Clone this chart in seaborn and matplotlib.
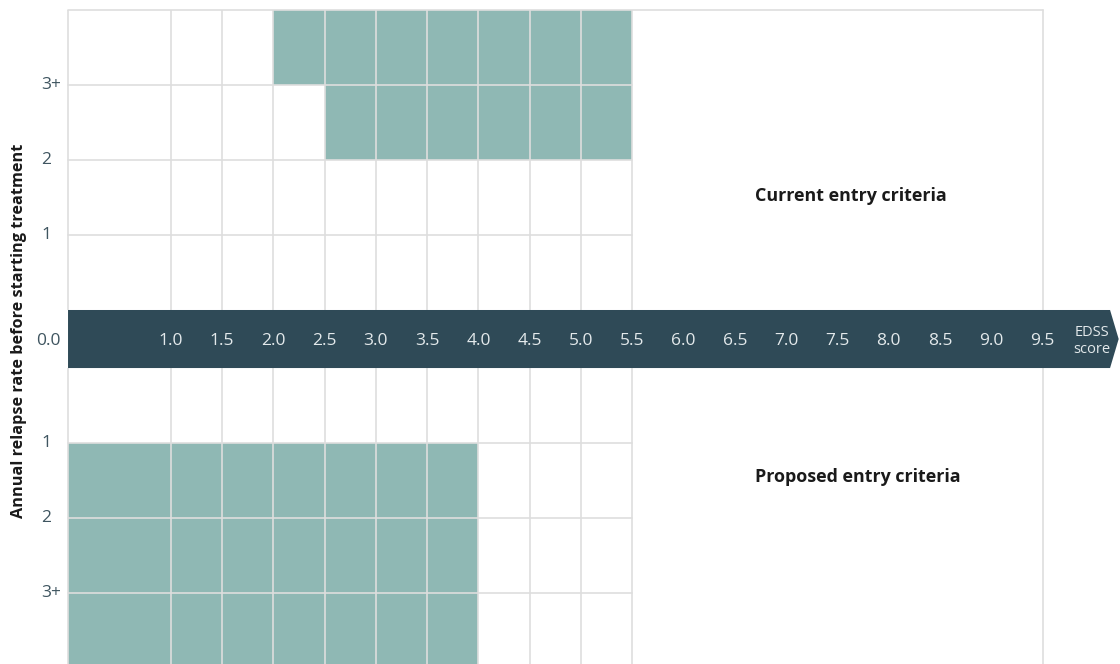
import matplotlib
matplotlib.use("Agg")
import matplotlib.pyplot as plt
import seaborn as sns
import numpy as np

# ---- data ----
edss_ticks = [1.0, 1.5, 2.0, 2.5, 3.0, 3.5, 4.0, 4.5, 5.0, 5.5, 6.0, 6.5, 7.0, 7.5, 8.0, 8.5, 9.0, 9.5]
grid_x = [0.0, 1.0, 1.5, 2.0, 2.5, 3.0, 3.5, 4.0, 4.5, 5.0, 5.5]
relapse_labels = ["1", "2", "3+"]
current_start = [None, 2.5, 2.0]   # EDSS start per relapse row (None = not eligible)
current_end = [None, 5.5, 5.5]
proposed_start = [0.0, 0.0, 0.0]
proposed_end = [4.0, 4.0, 4.0]
edss_max = 9.5

# ---- style ----
sns.set_theme(style="white")
plt.rcParams["font.family"] = ["Open Sans", "DejaVu Sans"]

FILL = "#8fb8b4"
GRID = "#dedede"
BAND = "#2f4a57"
LABEL = "#3f5560"
BANDTXT = "#e3e9eb"

fig = plt.figure(figsize=(11.2, 6.64), dpi=100)
ax = fig.add_axes([0, 0, 1, 1])
ax.set_xlim(-0.663, 10.253)
ax.set_ylim(-4.333, 4.52)
ax.axis("off")

half = 0.387  # half height of the axis band
n_rows = len(relapse_labels)
line_y = [half + i + 1 for i in range(n_rows)]   # 1, 2, 3+ lines (upper)
top = half + n_rows + 1
bottom = -top

# filled cells
for i, lab in enumerate(relapse_labels):
    if current_start[i] is not None:
        ax.barh(line_y[i] + 0.5, current_end[i] - current_start[i], left=current_start[i],
                height=1.0, color=FILL, linewidth=0, zorder=1)
    if proposed_start[i] is not None:
        ax.barh(-line_y[i] - 0.5, proposed_end[i] - proposed_start[i], left=proposed_start[i],
                height=1.0, color=FILL, linewidth=0, zorder=1)

# grid lines
lw = 1.2
for x in grid_x:
    ax.plot([x, x], [half, top], color=GRID, lw=lw, zorder=2, solid_capstyle="butt")
    ax.plot([x, x], [-half, bottom], color=GRID, lw=lw, zorder=2, solid_capstyle="butt")
for y in line_y:
    ax.plot([0, grid_x[-1]], [y, y], color=GRID, lw=lw, zorder=2)
    ax.plot([0, grid_x[-1]], [-y, -y], color=GRID, lw=lw, zorder=2)
ax.plot([0, edss_max], [top, top], color=GRID, lw=lw, zorder=2)
ax.plot([edss_max, edss_max], [bottom, top], color=GRID, lw=lw, zorder=2)

# axis band with arrow tip
bx_end = 10.156
tip = 10.24
ax.fill([0, bx_end, tip, bx_end, 0], [half, half, 0, -half, -half], color=BAND, lw=0, zorder=3)

for t in edss_ticks:
    ax.text(t, -0.02, f"{t:.1f}", ha="center", va="center", color=BANDTXT, fontsize=12.5, zorder=4)
ax.text(9.98, -0.03, "EDSS\nscore", ha="center", va="center", color=BANDTXT,
        fontsize=10.5, linespacing=1.15, zorder=4)
ax.text(-0.31, -0.02, "0.0", ha="left", va="center", color=LABEL, fontsize=12.5)

for i, lab in enumerate(relapse_labels):
    ax.text(-0.263, line_y[i], lab, ha="left", va="center", color=LABEL, fontsize=12.5)
    ax.text(-0.263, -line_y[i], lab, ha="left", va="center", color=LABEL, fontsize=12.5)

ax.text(-0.473, 0.107, "Annual relapse rate before starting treatment", rotation=90,
        ha="center", va="center", fontsize=11.7, fontweight="bold", color="#1a1a1a")

ax.text(6.696, 1.907, "Current entry criteria", ha="left", va="center",
        fontsize=12.9, fontweight="bold", color="#1a1a1a")
ax.text(6.696, -1.84, "Proposed entry criteria", ha="left", va="center",
        fontsize=12.9, fontweight="bold", color="#1a1a1a")

fig.savefig("out.png", dpi=100)
